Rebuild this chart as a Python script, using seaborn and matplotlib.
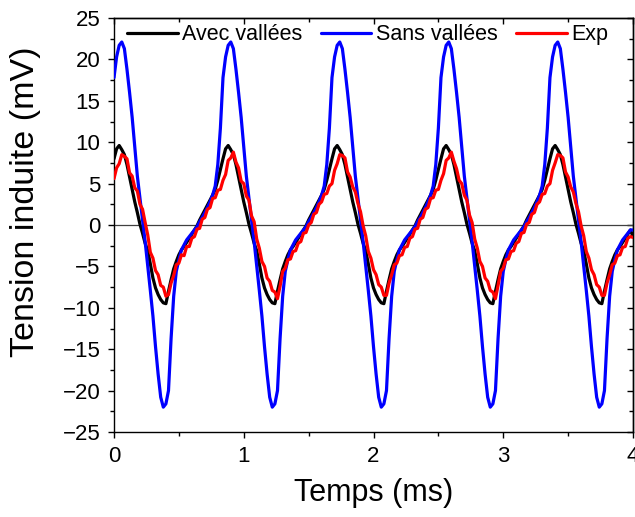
import numpy as np
import pandas as pd
import matplotlib
matplotlib.use("Agg")
import matplotlib.pyplot as plt
import seaborn as sns
from matplotlib.ticker import MultipleLocator

# Temps (ms), pas de 0.02 ms
temps = np.round(np.arange(201) * 0.02, 2)

# Simulation avec vallées (mV), une ligne par période
avec_vallees = (
    [8.0, 9.2, 9.6, 9.1, 8.5, 7.3, 5.8, 4.3, 2.8, 1.5, 0.1, -1.0, -2.2, -3.1, -4.7, -6.4, -7.6, -8.4, -9.0, -9.4, -9.5,
     -8.0, -6.6, -5.3, -4.4, -3.6, -3.0, -2.6, -2.1, -1.6, -1.1, -0.6, -0.1, 0.6, 1.2, 1.8, 2.4, 3.0, 3.6, 4.3, 5.4, 6.7]
    + [8.0, 9.2, 9.6, 9.1, 8.5, 7.3, 5.8, 4.3, 2.8, 1.5, 0.1, -1.0, -2.2, -3.1, -4.7, -6.4, -7.6, -8.4, -9.0, -9.4, -9.5,
       -8.0, -6.6, -5.3, -4.4, -3.6, -3.0, -2.6, -2.1, -1.6, -1.1, -0.6, -0.1, 0.6, 1.2, 1.8, 2.4, 3.0, 3.6, 4.3, 5.4, 6.7]
    + [8.0, 9.2, 9.6, 9.1, 8.5, 7.3, 5.8, 4.3, 2.8, 1.5, 0.1, -1.0, -2.2, -3.1, -4.7, -6.4, -7.6, -8.4, -9.0, -9.4, -9.5,
       -8.0, -6.6, -5.3, -4.4, -3.6, -3.0, -2.6, -2.1, -1.6, -1.1, -0.6, -0.1, 0.6, 1.2, 1.8, 2.4, 3.0, 3.6, 4.3, 5.4, 6.7]
    + [8.0, 9.2, 9.6, 9.1, 8.5, 7.3, 5.8, 4.3, 2.8, 1.5, 0.1, -1.0, -2.2, -3.1, -4.7, -6.4, -7.6, -8.4, -9.0, -9.4, -9.5,
       -8.0, -6.6, -5.3, -4.4, -3.6, -3.0, -2.6, -2.1, -1.6, -1.1, -0.6, -0.1, 0.6, 1.2, 1.8, 2.4, 3.0, 3.6, 4.3, 5.4, 6.7]
    + [8.0, 9.2, 9.6, 9.1, 8.5, 7.3, 5.8, 4.3, 2.8, 1.5, 0.1, -1.0, -2.2, -3.1, -4.7, -6.4, -7.6, -8.4, -9.0, -9.4, -9.5,
       -8.0, -6.6, -5.3, -4.4, -3.6, -3.0, -2.6, -2.1, -1.6, -1.1, -0.6, -1.4]
)

# Simulation sans vallées (mV)
sans_vallees = (
    [17.8, 20.3, 21.7, 22.1, 21.3, 18.8, 16.0, 13.0, 9.4, 5.9, 3.2, 0.6, -2.0, -4.9, -7.9, -11.0, -14.7, -18.0, -20.8,
     -22.0, -21.6, -20.0, -13.7, -8.6, -5.6, -4.2, -3.0, -2.4, -1.8, -1.4, -1.0, -0.6, -0.2, 0.4, 0.9, 1.5, 2.1, 2.8,
     3.6, 4.7, 7.3, 11.7]
    + [17.8, 20.3, 21.7, 22.1, 21.3, 18.8, 16.0, 13.0, 9.4, 5.9, 3.2, 0.6, -2.0, -4.9, -7.9, -11.0, -14.7, -18.0, -20.8,
       -22.0, -21.6, -20.0, -13.7, -8.6, -5.6, -4.2, -3.0, -2.4, -1.8, -1.4, -1.0, -0.6, -0.2, 0.4, 0.9, 1.5, 2.1, 2.8,
       3.6, 4.7, 7.3, 11.7]
    + [17.8, 20.3, 21.7, 22.1, 21.3, 18.8, 16.0, 13.0, 9.4, 5.9, 3.2, 0.6, -2.0, -4.9, -7.9, -11.0, -14.7, -18.0, -20.8,
       -22.0, -21.6, -20.0, -13.7, -8.6, -5.6, -4.2, -3.0, -2.4, -1.8, -1.4, -1.0, -0.6, -0.2, 0.4, 0.9, 1.5, 2.1, 2.8,
       3.6, 4.7, 7.3, 11.7]
    + [17.8, 20.3, 21.7, 22.1, 21.3, 18.8, 16.0, 13.0, 9.4, 5.9, 3.2, 0.6, -2.0, -4.9, -7.9, -11.0, -14.7, -18.0, -20.8,
       -22.0, -21.6, -20.0, -13.7, -8.6, -5.6, -4.2, -3.0, -2.4, -1.8, -1.4, -1.0, -0.6, -0.2, 0.4, 0.9, 1.5, 2.1, 2.8,
       3.6, 4.7, 7.3, 11.7]
    + [17.8, 20.3, 21.7, 22.1, 21.3, 18.8, 16.0, 13.0, 9.4, 5.9, 3.2, 0.6, -2.0, -4.9, -7.9, -11.0, -14.7, -18.0, -20.8,
       -22.0, -21.6, -20.0, -13.7, -8.6, -5.6, -4.2, -3.0, -2.4, -1.8, -1.4, -1.0, -0.6, -0.6]
)

# Mesure (mV)
experience = (
    [5.6, 6.9, 7.4, 8.5, 8.3, 8.0, 6.3, 5.9, 4.5, 4.1, 2.5, 1.9, 0.3, -1.2, -3.3, -4.0, -5.5, -6.0, -7.3, -7.5, -8.6,
     -8.4, -7.0, -6.1, -4.8, -4.6, -3.6, -3.7, -2.6, -2.6, -1.6, -1.4, -0.5, -0.4, 0.7, 0.9, 1.9, 2.1, 3.2, 3.3, 4.2, 4.3]
    + [5.4, 6.1, 7.8, 8.1, 8.8, 7.6, 6.9, 5.3, 5.0, 3.5, 3.0, 1.1, 0.4, -1.7, -2.8, -4.4, -5.0, -6.4, -6.8, -7.9, -8.1,
       -8.9, -7.4, -5.6, -5.2, -4.2, -4.1, -3.2, -3.1, -2.2, -2.0, -1.0, -0.9, 0.0, 0.3, 1.3, 1.5, 2.5, 2.8, 3.7, 3.8, 4.7]
    + [5.0, 6.6, 7.4, 8.5, 8.4, 8.1, 6.4, 5.8, 4.6, 4.0, 2.6, 1.6, -0.1, -1.3, -3.2, -4.0, -5.4, -6.0, -7.2, -7.5, -8.5,
       -8.5, -7.0, -6.0, -4.8, -4.6, -3.7, -3.6, -2.7, -2.6, -1.6, -1.4, -0.5, -0.4, 0.7, 0.9, 1.9, 2.1, 3.2, 3.3, 4.2, 4.3]
    + [5.4, 6.2, 7.8, 8.1, 8.8, 7.7, 6.8, 5.4, 5.0, 3.6, 3.0, 1.2, 0.3, -1.7, -2.8, -4.4, -5.0, -6.4, -6.8, -7.9, -8.1,
       -8.9, -7.3, -5.6, -5.2, -4.2, -4.1, -3.2, -3.1, -2.2, -2.0, -1.0, -0.9, 0.1, 0.3, 1.3, 1.5, 2.5, 2.8, 3.7, 3.8, 4.7]
    + [5.0, 6.6, 7.5, 8.5, 8.4, 8.1, 6.4, 5.8, 4.6, 4.0, 2.6, 1.6, -0.1, -1.3, -3.2, -4.0, -5.4, -6.0, -7.2, -7.5, -8.5,
       -8.5, -7.0, -6.0, -4.8, -4.6, -3.7, -3.6, -2.7, -2.6, -1.6, -1.4, -1.5]
)

series = ["Avec vallées", "Sans vallées", "Exp"]
couleurs = {"Avec vallées": "#000000", "Sans vallées": "#0000ff", "Exp": "#ff0000"}

df = pd.concat([
    pd.DataFrame({"t": temps, "v": avec_vallees, "serie": series[0]}),
    pd.DataFrame({"t": temps, "v": sans_vallees, "serie": series[1]}),
    pd.DataFrame({"t": temps, "v": experience, "serie": series[2]}),
], ignore_index=True)

sns.set_theme(style="ticks")
plt.rcParams["font.family"] = ["Liberation Sans", "DejaVu Sans"]
plt.rcParams["axes.linewidth"] = 1.0
plt.rcParams["axes.edgecolor"] = "black"
plt.rcParams["text.color"] = "black"
plt.rcParams["axes.labelcolor"] = "black"
plt.rcParams["xtick.color"] = "black"
plt.rcParams["ytick.color"] = "black"

fig = plt.figure(figsize=(6.35, 5.17), dpi=100)
ax = fig.add_axes([114 / 635, 1 - 432 / 517, 519 / 635, 414 / 517])

ax.axhline(0, color="#404040", lw=0.9, zorder=1)
sns.lineplot(data=df, x="t", y="v", hue="serie", hue_order=series, palette=couleurs,
             estimator=None, sort=False, lw=2.3, ax=ax, zorder=3)

ax.set_xlim(0, 4)
ax.set_ylim(-25, 25)
ax.xaxis.set_major_locator(MultipleLocator(1))
ax.xaxis.set_minor_locator(MultipleLocator(0.5))
ax.yaxis.set_major_locator(MultipleLocator(5))
ax.yaxis.set_minor_locator(MultipleLocator(2.5))
ax.tick_params(which="major", direction="out", length=4.3, width=1, labelsize=16, colors="black", pad=5.5)
ax.tick_params(which="minor", direction="out", length=2.6, width=1, colors="black")

# ticks miroir vers l'intérieur en haut et à droite
haut = ax.secondary_xaxis("top")
haut.xaxis.set_major_locator(MultipleLocator(1))
haut.xaxis.set_minor_locator(MultipleLocator(0.5))
haut.tick_params(which="major", direction="in", length=4.3, width=1, labeltop=False)
haut.tick_params(which="minor", direction="in", length=2.6, width=1)
droite = ax.secondary_yaxis("right")
droite.yaxis.set_major_locator(MultipleLocator(5))
droite.yaxis.set_minor_locator(MultipleLocator(2.5))
droite.tick_params(which="major", direction="in", length=4.3, width=1, labelright=False)
droite.tick_params(which="minor", direction="in", length=2.6, width=1)

ax.set_xlabel("Temps (ms)", fontsize=22)
ax.xaxis.set_label_coords(0.5, -0.11)
ax.set_ylabel("Tension induite (mV)", fontsize=24.5)
ax.yaxis.set_label_coords(-0.14, 0.556)

ax.legend(loc="center left", bbox_to_anchor=(0.025, 0.96), ncol=3, frameon=False, fontsize=15.5,
          handlelength=2.35, handletextpad=0.22, columnspacing=0.85, borderpad=0, borderaxespad=0)

fig.savefig("out.png", dpi=100)
